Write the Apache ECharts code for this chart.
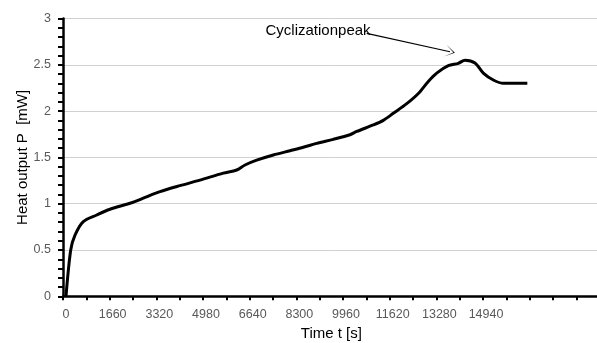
<!DOCTYPE html>
<html>
<head>
<meta charset="utf-8">
<script src="https://cdn.jsdelivr.net/npm/echarts@6/dist/echarts.min.js"></script>
<style>html,body{margin:0;padding:0;background:#fff;}#c{width:597px;height:343px;}</style>
</head>
<body>
<div id="c"></div>
<script>
// Time [s]
const timeS = [107, 274, 427, 722, 1199, 1672, 2444, 2856, 3450, 4162, 4873, 5702, 6179, 6474, 6890, 7481, 8075, 8548, 9025, 9615, 10209, 10447, 11038, 11393, 11749, 12226, 12639, 12994, 13293, 13706, 14061, 14300, 14654, 14950, 15306, 15662, 16516];
// Heat output P [mW]
const heatMW = [0.0, 0.5, 0.66, 0.806, 0.878, 0.94, 1.01, 1.06, 1.13, 1.195, 1.255, 1.33, 1.364, 1.418, 1.47, 1.526, 1.572, 1.609, 1.652, 1.695, 1.745, 1.78, 1.85, 1.90, 1.976, 2.08, 2.19, 2.32, 2.41, 2.49, 2.516, 2.55, 2.52, 2.41, 2.336, 2.30, 2.30];
// x tick labels shown
const xTickLabels = [0, 1660, 3320, 4980, 6640, 8300, 9960, 11620, 13280, 14940];
const xTickStep = 830;
const xMax = 19090;
const yTickLabels = [0, 0.5, 1, 1.5, 2, 2.5, 3];
// annotation
const annotText = 'Cyclizationpeak';
const annotTextAt = [9072, 2.865];
const annotArrowFrom = [10803, 2.84];
const annotArrowTo = [13766, 2.641];

const chart = echarts.init(document.getElementById('c'), null, {renderer: 'canvas'});
const font = '"Liberation Sans", Arial, sans-serif';
chart.setOption({
  animation: false,
  backgroundColor: '#fff',
  grid: {left: 63, top: 18.5, right: -2.7, bottom: 46.7, containLabel: false, outerBoundsMode: 'none'},
  xAxis: {
    type: 'value', min: 0, max: xMax, interval: xTickStep,
    name: 'Time t [s]', nameLocation: 'middle', nameGap: 30,
    nameTextStyle: {fontFamily: font, fontSize: 15, color: '#000'},
    axisLine: {show: true, onZero: false, lineStyle: {color: '#000', width: 2.5}},
    axisTick: {show: true, length: 4, lineStyle: {color: '#000', width: 2}},
    axisLabel: {
      margin: 12, fontFamily: font, fontSize: 12.5, color: '#595959', padding: [0, 0, 0, 6],
      showMaxLabel: false,
      formatter: v => xTickLabels.indexOf(Math.round(v)) >= 0 ? String(Math.round(v)) : ''
    },
    splitLine: {show: false}
  },
  yAxis: {
    type: 'value', min: yTickLabels[0], max: yTickLabels[yTickLabels.length - 1], interval: 0.5,
    name: 'Heat output P  [mW]', nameLocation: 'middle', nameGap: 33, nameRotate: 90,
    nameMoveOverlap: false,
    nameTextStyle: {fontFamily: font, fontSize: 15, color: '#000'},
    axisLine: {show: true, lineStyle: {color: '#000', width: 2.5}},
    axisTick: {show: true, length: 5, lineStyle: {color: '#000', width: 2}},
    minorTick: {show: true, splitNumber: 5, length: 5, lineStyle: {color: '#000', width: 2}},
    axisLabel: {margin: 12, fontFamily: font, fontSize: 12.5, color: '#595959'},
    splitLine: {show: true, lineStyle: {color: '#d0d0d0', width: 1}}
  },
  series: [{
    type: 'line',
    data: timeS.map((t, i) => [t, heatMW[i]]),
    showSymbol: false, symbol: 'none', smooth: 0.3,
    lineStyle: {color: '#000', width: 3},
    markLine: {
      silent: true, animation: false,
      symbol: ['none', 'path://M0,10L5,0L10,10L5,1.5Z'], symbolSize: [12, 10],
      lineStyle: {color: '#000', width: 1.2, type: 'solid'},
      label: {show: false},
      data: [[{coord: annotArrowFrom}, {coord: annotArrowTo}]]
    },
    markPoint: {
      silent: true, animation: false,
      data: [{coord: annotTextAt, symbol: 'circle', symbolSize: 0,
        label: {show: true, position: 'inside', formatter: annotText, color: '#000', fontFamily: font, fontSize: 15}}]
    }
  }]
});
</script>
</body>
</html>
